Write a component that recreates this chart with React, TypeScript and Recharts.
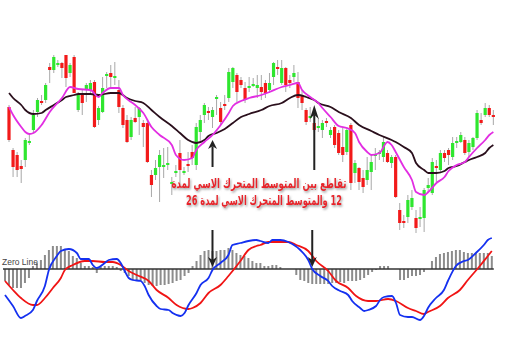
import React from 'react';
import { ComposedChart, Bar, Line, XAxis, YAxis, ReferenceLine } from 'recharts';

// ---- price candles (price units) ----
const opens = [143,100,95,84,90,107,120,138,149,150,183,180,185,187,195,177,193,140,155,160,160,168,130,138,174,177,172,160,142,130,113,132,133,127,127,75,75,83,83,85,66,77,97,77,86,98,85,118,135,139,133,151,142,146,152,168,175,170,162,162,164,162,163,167,160,173,183,167,182,170,173,168,155,140,132,127,122,120,129,115,123,117,103,98,125,77,82,72,70,78,94,96,93,97,87,93,40,29,33,43,32,31,32,62,57,84,80,97,100,93,107,108,110,98,103,112,130,135,142,135];
const highs = [145,102,98,90,112,117,140,152,155,167,187,195,190,188,195,187,195,158,160,167,170,170,144,173,178,185,188,170,145,135,133,143,143,130,130,80,90,100,102,103,73,85,110,83,98,105,127,135,147,143,143,155,148,155,182,183,177,173,168,173,172,175,175,170,177,188,190,190,183,175,185,178,160,142,143,135,132,130,132,123,125,120,122,123,127,90,83,80,93,95,102,100,113,100,95,95,47,35,55,60,40,43,62,72,92,90,100,100,102,113,113,118,113,110,113,140,137,147,145,140];
const lows = [108,73,73,67,83,105,117,133,145,147,167,177,183,172,163,173,157,138,135,148,155,122,125,137,162,162,165,137,122,107,110,127,115,103,87,53,70,48,72,80,55,73,62,75,78,85,80,108,127,130,122,135,125,140,148,162,148,162,147,158,163,152,150,152,157,165,175,165,158,162,168,142,140,125,128,118,118,112,123,112,102,95,88,95,60,67,60,57,65,60,80,90,88,87,82,52,20,22,27,40,17,23,18,58,55,68,77,88,85,90,102,107,95,93,100,110,125,133,133,125];
const closes = [110,83,80,81,110,109,135,150,147,165,180,193,187,182,172,185,157,155,147,165,167,123,142,162,176,173,174,143,125,108,130,128,142,123,88,65,82,95,85,87,68,79,80,79,84,92,123,130,145,137,140,153,128,144,178,182,158,165,150,164,166,165,158,157,167,187,181,182,165,167,177,152,147,128,134,120,124,127,127,120,105,97,95,120,67,87,68,63,80,88,96,98,108,88,93,53,27,27,50,52,22,33,60,65,88,82,97,92,95,107,109,115,97,107,112,137,127,142,135,133];

// moving averages read at selected candles: [candleIndex, value]
const ema12Pts: [number, number][] = [[0,143],[1,135],[3,123],[4,118],[5,116],[6,117],[8,125],[10,138],[13,152],[15,163],[17,161],[20,160],[22,153],[23,157],[25,162],[27,162],[28,155],[30,148],[31,145],[33,137],[35,123],[37,115],[40,105],[41,95],[43,90],[45,92],[46,100],[48,108],[50,115],[52,125],[54,137],[55,144],[57,149],[59,152],[62,155],[64,158],[67,163],[69,165],[71,167],[72,160],[74,153],[76,147],[77,142],[79,133],[81,124],[83,122],[85,117],[86,108],[88,98],[89,95],[91,97],[93,108],[94,105],[95,98],[97,83],[99,70],[100,58],[102,55],[103,58],[105,67],[107,73],[108,79],[110,85],[112,88],[113,93],[115,102],[117,110],[118,115],[119,118]];
const ema26Pts: [number, number][] = [[0,157],[1,152],[3,145],[4,140],[6,136],[8,137],[9,140],[11,145],[13,150],[14,153],[16,155],[17,156],[20,156],[22,155],[25,157],[27,157],[29,152],[31,149],[33,147],[35,140],[37,133],[40,124],[42,117],[44,110],[46,107],[48,110],[49,114],[51,117],[53,121],[55,127],[57,133],[59,136],[62,140],[64,144],[67,147],[69,152],[71,155],[73,153],[75,150],[76,147],[79,143],[81,138],[84,132],[86,125],[89,119],[91,115],[94,110],[95,108],[97,103],[99,97],[100,87],[102,80],[103,77],[105,77],[107,79],[108,82],[110,84],[112,88],[113,90],[115,93],[117,97],[118,102],[119,105]];

// ---- MACD panel ----
const histogram = [-12,-16,-19,-19,-19,-14,-9,3,6,9,14,19,23,23,23,20,18,13,11,6,3,3,2,-4,2,3,3,3,2,-2,-4,-7,-11,-12,-12,-14,-16,-17,-17,-16,-16,-15,-14,-12,-11,-7,-4,3,8,14,18,19,18,18,19,19,21,19,16,14,13,11,8,6,6,3,3,4,4,2,0,0,0,-6,-11,-12,-14,-15,-15,-15,-15,-15,-14,-14,-13,-14,-12,-12,-12,-11,-9,-6,-3,-1,3,3,3,0,0,-11,-11,-9,-7,-7,-6,-3,0,8,12,15,16,17,18,19,19,17,16,16,16,16,16,16,13];
const macdPts: [number, number][] = [[0,-26],[2,-37],[4,-49],[5,-47],[7,-41],[8,-32],[10,-17],[11,-1],[13,13],[14,18],[16,20],[18,16],[19,10],[21,10],[22,4],[23,1],[25,6],[26,9],[28,10],[29,6],[30,-2],[31,-9],[32,-11],[34,-12],[35,-17],[36,-26],[38,-37],[39,-40],[41,-41],[42,-44],[44,-47],[45,-44],[46,-36],[48,-24],[49,-16],[51,-9],[52,-1],[54,6],[56,14],[57,24],[59,26],[61,28],[63,29],[64,28],[66,26],[67,29],[69,29],[71,27],[72,25],[74,19],[76,9],[77,0],[79,-7],[81,-12],[82,-17],[84,-22],[86,-26],[87,-32],[89,-39],[90,-42],[91,-41],[93,-37],[94,-31],[95,-28],[97,-27],[98,-34],[99,-46],[101,-48],[102,-48],[104,-51],[105,-47],[106,-39],[108,-29],[110,-21],[111,-12],[113,3],[115,8],[116,9],[118,16],[120,24],[121,29],[122,31]];
const signalPts: [number, number][] = [[0,-12],[2,-21],[4,-29],[7,-36],[8,-36],[10,-29],[12,-19],[14,-9],[15,-1],[17,4],[20,8],[22,8],[25,7],[27,7],[29,4],[31,-2],[33,-6],[36,-12],[38,-21],[41,-29],[43,-36],[46,-40],[47,-39],[49,-34],[51,-24],[54,-16],[56,-7],[59,8],[61,19],[63,23],[64,24],[66,27],[69,27],[71,27],[73,24],[76,18],[78,8],[81,-2],[83,-12],[86,-19],[88,-27],[91,-32],[93,-32],[96,-30],[98,-32],[101,-39],[103,-42],[105,-45],[106,-43],[109,-37],[111,-29],[114,-21],[116,-11],[119,3],[121,13],[122,18]];

// crossover markers
const crossCandles = [50, 75];
const crossSlots = [52, 77];
const upArrows = [ { from: 83, to: 110, head: 9 }, { from: 80, to: 145, head: 14 } ];

const TEXT1 = 'تقاطع بين المتوسط المتحرك الاسي لمدة';
const TEXT2 = '12 والمتوسط المتحرك الاسي لمدة 26';

const priceData: any[] = opens.map((o, i) => ({
  i, o, h: highs[i], l: lows[i], c: closes[i], range: [lows[i], highs[i]], ema12: null, ema26: null,
}));
ema12Pts.forEach(([i, v]) => { priceData[i].ema12 = v; });
ema26Pts.forEach(([i, v]) => { priceData[i].ema26 = v; });

const macdData: any[] = histogram.map((h, i) => ({ i, hist: h, macd: null, signal: null }));
macdPts.forEach(([i, v]) => { macdData[i].macd = v; });
signalPts.forEach(([i, v]) => { macdData[i].signal = v; });

const Candle = (props: any) => {
  const { x, y, width, height, payload } = props;
  if (!payload) return null;
  const top = Math.min(y, y + height);
  const hh = Math.abs(height);
  const { o, c, h: hi, l: lo } = payload;
  const ratio = hh / (hi - lo);
  const bTop = top + (hi - Math.max(o, c)) * ratio;
  const bBot = top + (hi - Math.min(o, c)) * ratio;
  const cx = x + width / 2;
  const up = c >= o;
  return (
    <g>
      <line x1={cx} x2={cx} y1={top} y2={top + hh} stroke="#a8a8a8" strokeWidth={1} />
      <rect x={cx - 1.6} y={bTop} width={3.2} height={Math.max(1.6, bBot - bTop)} fill={up ? '#2fe62f' : '#f21a1a'} />
    </g>
  );
};

const arrowShape = (headLen: number) => (p: any) => {
  const { x1, y1, x2, y2 } = p;
  const d = y2 > y1 ? 1 : -1; // direction toward tip (x2,y2)
  const hw = 4.5;
  const path = `M${x2},${y2} L${x2 - hw},${y2 - d * headLen} L${x2},${y2 - d * headLen * 0.7} L${x2 + hw},${y2 - d * headLen} Z`;
  return (
    <g>
      <line x1={x1} y1={y1} x2={x2} y2={y2 - d * headLen * 0.7} stroke="#222" strokeWidth={2} />
      <path d={path} fill="#222" />
    </g>
  );
};

export default function App() {
  return (
    <div style={{ position: 'absolute', left: 0, top: 0, width: 520, height: 350, background: '#fff', overflow: 'hidden' }}>
      <div style={{ position: 'absolute', left: 0, top: 0 }}>
        <ComposedChart width={520} height={350} data={priceData} margin={{ top: 10, right: 24.6, bottom: 110, left: 7 }} barCategoryGap={0}>
          <XAxis dataKey="i" hide />
          <YAxis hide domain={[10, 240]} allowDataOverflow />
          <Bar dataKey="range" shape={Candle} isAnimationActive={false} barSize={4} />
          <Line dataKey="ema26" type="monotone" stroke="#2a0f1c" strokeWidth={1.8} dot={false} connectNulls isAnimationActive={false} />
          <Line dataKey="ema12" type="monotone" stroke="#e22ee2" strokeWidth={1.8} dot={false} connectNulls isAnimationActive={false} />
          {crossCandles.map((ci, k) => (
            <ReferenceLine key={k} ifOverflow="visible"
              segment={[{ x: ci, y: upArrows[k].from }, { x: ci, y: upArrows[k].to }]}
              shape={arrowShape(upArrows[k].head)} />
          ))}
        </ComposedChart>
      </div>
      <div style={{ position: 'absolute', left: 0, top: 0 }}>
        <ComposedChart width={520} height={350} data={macdData} margin={{ top: 224, right: 26.2, bottom: 11, left: 3 }} barCategoryGap={0}>
          <XAxis dataKey="i" hide />
          <YAxis hide domain={[-70, 45]} allowDataOverflow />
          <Bar dataKey="hist" fill="#8c8c8c" barSize={2} isAnimationActive={false} />
          <ReferenceLine y={0} stroke="#333" strokeWidth={1.5} />
          <Line dataKey="signal" type="monotone" stroke="#f01414" strokeWidth={1.8} dot={false} connectNulls isAnimationActive={false} />
          <Line dataKey="macd" type="monotone" stroke="#1430f0" strokeWidth={1.8} dot={false} connectNulls isAnimationActive={false} />
          {crossSlots.map((si, k) => (
            <ReferenceLine key={k} ifOverflow="visible"
              segment={[{ x: si, y: 39 }, { x: si, y: 2 }]}
              shape={arrowShape(10)} />
          ))}
        </ComposedChart>
      </div>
      <svg width={520} height={350} style={{ position: 'absolute', left: 0, top: 0, pointerEvents: 'none' }}>
        <defs>
          <filter id="sh" x="-10%" y="-40%" width="120%" height="180%">
            <feDropShadow dx="1" dy="1.5" stdDeviation="0.9" floodColor="#888" floodOpacity="0.85" />
          </filter>
        </defs>
        <text x={2} y={265} fontSize={8.5} fill="#444" fontFamily="Liberation Sans, Arial, sans-serif">Zero Line</text>
        <g filter="url(#sh)" fontFamily="DejaVu Sans, sans-serif" fontSize={13.5} fontWeight="bold" fill="#e8242a" textAnchor="middle">
          <text x={259} y={188} direction="rtl" textLength={175} lengthAdjust="spacingAndGlyphs">{TEXT1}</text>
          <text x={264} y={205} direction="rtl" textLength={156} lengthAdjust="spacingAndGlyphs">{TEXT2}</text>
        </g>
      </svg>
    </div>
  );
}
